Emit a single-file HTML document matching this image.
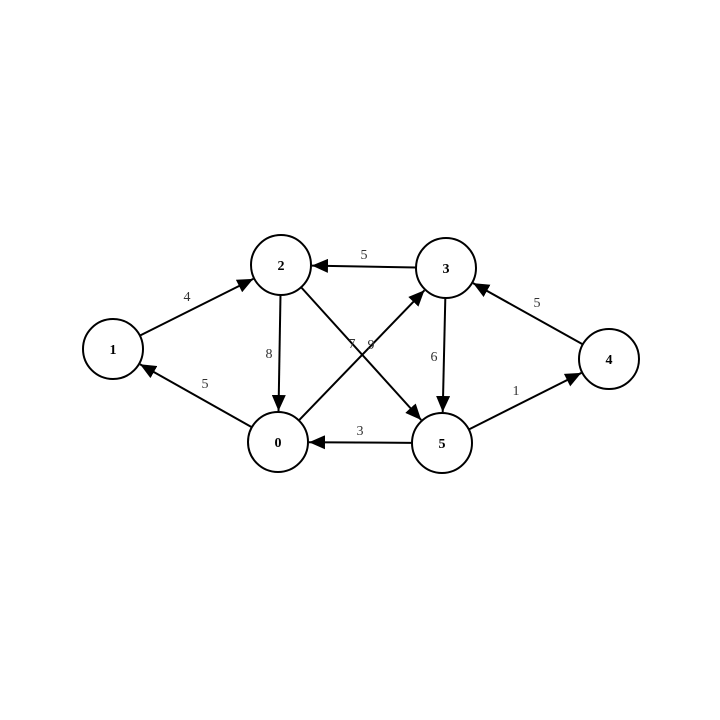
<!DOCTYPE html>
<html><head><meta charset="utf-8"><style>
html,body{margin:0;padding:0;background:#fff;width:720px;height:720px;overflow:hidden}
</style></head><body>
<svg id="s" width="720" height="720" viewBox="0 0 720 720" xmlns="http://www.w3.org/2000/svg">
<defs><marker id="a" markerWidth="16" markerHeight="14" refX="16" refY="7" orient="auto" markerUnits="userSpaceOnUse"><path d="M0,0 L16,7 L0,14 Z" fill="#000"/></marker></defs>
<g id="e" stroke="#000" stroke-width="2" fill="none"></g>
<g font-family="Liberation Serif, serif" font-size="14" fill="#333" text-anchor="middle">
<text x="187" y="301">4</text><text x="364" y="259">5</text><text x="269" y="358">8</text>
<text x="352" y="348">7</text><text x="371" y="349">9</text><text x="434" y="361">6</text>
<text x="537" y="307">5</text><text x="516" y="395">1</text><text x="360" y="435">3</text>
<text x="205" y="388">5</text>
</g>
<g id="n"></g>
</svg>
<script>
var N={0:[278,442],1:[113,349],2:[281,265],3:[446,268],4:[609,359],5:[442,443]},R=30;
var E=[[1,2],[2,0],[2,5],[0,3],[3,2],[3,5],[5,0],[5,4],[4,3],[0,1]];
var ns="http://www.w3.org/2000/svg",eg=document.getElementById('e'),ng=document.getElementById('n');
E.forEach(function(p){var a=N[p[0]],b=N[p[1]],dx=b[0]-a[0],dy=b[1]-a[1],d=Math.hypot(dx,dy),ux=dx/d,uy=dy/d;
var l=document.createElementNS(ns,'line');l.setAttribute('x1',a[0]+ux*R);l.setAttribute('y1',a[1]+uy*R);
l.setAttribute('x2',b[0]-ux*(R+1));l.setAttribute('y2',b[1]-uy*(R+1));l.setAttribute('marker-end','url(#a)');eg.appendChild(l);});
for(var k in N){var c=document.createElementNS(ns,'circle');c.setAttribute('cx',N[k][0]);c.setAttribute('cy',N[k][1]);c.setAttribute('r',R);
c.setAttribute('fill','#fff');c.setAttribute('stroke','#000');c.setAttribute('stroke-width','2');ng.appendChild(c);
var t=document.createElementNS(ns,'text');t.setAttribute('x',N[k][0]);t.setAttribute('y',N[k][1]+5);t.setAttribute('text-anchor','middle');
t.setAttribute('font-family','Liberation Serif, serif');t.setAttribute('font-weight','bold');t.setAttribute('font-size','14');t.textContent=k;ng.appendChild(t);}
</script>
</body></html>
